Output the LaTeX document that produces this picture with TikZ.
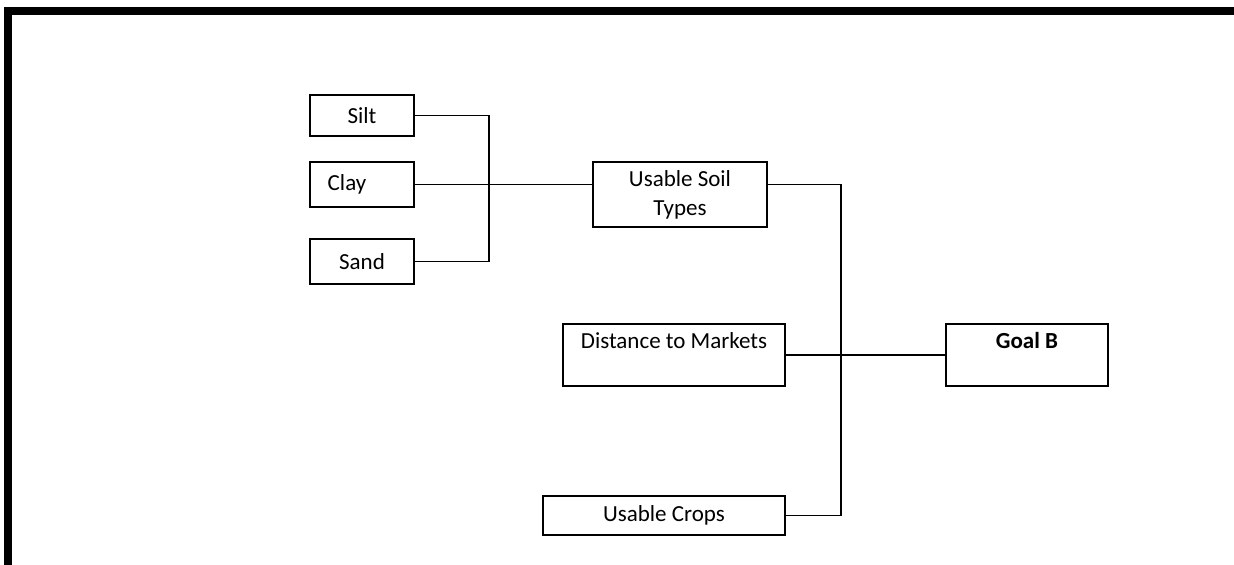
\documentclass[tikz,border=0pt]{standalone}
\usepackage{fontspec}
\setmainfont{Carlito}
\usepackage{tikz}
\usetikzlibrary{positioning}

\begin{document}
\begin{tikzpicture}[x=0.5pt, y=-0.5pt, font=\fontsize{11.5}{14.5}\selectfont]
    \tikzstyle{box} = [rectangle, draw=black, line width=0.7pt, inner sep=0pt, outer sep=0pt, align=center]
    \tikzstyle{line} = [draw=black, line width=0.7pt]
    \useasboundingbox (0,0) rectangle (1234,565);
    \draw [line width=4pt, line join=miter] (8,565) -- (8,11) -- (1234,11);
    
    \node (silt) [box, minimum width=52pt, minimum height=20.5pt] at (362,115.5) {Silt};
    \node (clay) [box, minimum width=52pt, minimum height=22.5pt] at (362,184.5) {Clay\hspace*{15pt}};
    \node (sand) [box, minimum width=52pt, minimum height=22.5pt] at (362,261.5) {Sand};
    
    \node (soil) [box, minimum width=87pt, minimum height=32.5pt] at (680,194.5) {Usable Soil\\Types};
    \node (dist) [box, minimum width=111pt, minimum height=31pt] at (674,355) {Distance to Markets\\~};
    \node (crops) [box, minimum width=121pt, minimum height=19.5pt] at (664,515.5) {Usable Crops};
    \node (goal) [box, minimum width=81pt, minimum height=31pt] at (1027,355) {\textbf{Goal B}\\~};
    
    \coordinate (soiljoin) at (489,184);
    \coordinate (goaljoin) at (841,355);
    
    \draw [line] (silt.east) -| (soiljoin);
    \draw [line] (sand.east) -| (soiljoin);
    \draw [line] (clay.east) -- (clay.east -| soil.west);
    
    \draw [line] (soil.east |- clay.east) -| (goaljoin);
    \draw [line] (crops.east) -| (goaljoin);
    \draw [line] (dist.east) -- (goal.west);
    
\end{tikzpicture}
\end{document}
